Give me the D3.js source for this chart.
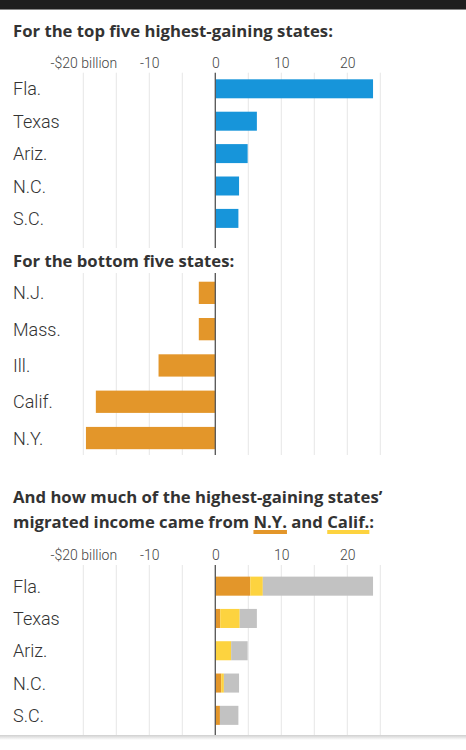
<!DOCTYPE html>
<html><head><meta charset="utf-8">
<script src="https://cdn.jsdelivr.net/npm/d3@7"></script>
<style>
body{margin:0;background:#fff;}
svg{display:block;}
.title{font-family:"Open Sans","Noto Sans",sans-serif;font-weight:700;font-size:16px;fill:#333;}
.lab{font-family:Roboto,Lato,sans-serif;font-weight:300;font-size:18px;fill:#333;}
.tick{font-family:Roboto,Lato,sans-serif;font-weight:300;font-size:14px;fill:#444;}
</style></head>
<body><svg id="c" width="466" height="750"></svg>
<script>
const topStates = ["Fla.","Texas","Ariz.","N.C.","S.C."];
const topValues = [23.9, 6.3, 4.9, 3.6, 3.5];
const bottomStates = ["N.J.","Mass.","Ill.","Calif.","N.Y."];
const bottomValues = [-2.5, -2.5, -8.6, -18.1, -19.6];
const fromNY = [5.3, 0.75, 0.1, 0.9, 0.7];
const fromCalif = [1.9, 2.95, 2.3, 0.4, 0];
const tickValues = [-20, -10, 0, 10, 20];
const tickLabels = ["-$20 billion", "-10", "0", "10", "20"];
const gridValues = [-20, -15, -10, -5, 0, 5, 10, 15, 20, 25];

const C = {blue:"#1795da", orange:"#e3962a", yellow:"#fdd33f", gray:"#c2c2c2", grid:"#e6e6e6", zero:"#555"};

const svg = d3.select("#c");
const x = d3.scaleLinear().domain([-20, 25]).range([83.3, 380.3]);

// top header bar
svg.append("rect").attr("x",0).attr("y",0).attr("width",466).attr("height",9).attr("fill","#1f1f1f");
svg.append("rect").attr("x",0).attr("y",9).attr("width",466).attr("height",1).attr("fill","#888");

function grid(y0, y1) {
  const g = svg.append("g");
  g.selectAll("line").data(gridValues).join("line")
    .attr("x1", d => x(d)).attr("x2", d => x(d))
    .attr("y1", y0).attr("y2", y1)
    .attr("stroke", C.grid).attr("stroke-width", 1);
}
function ticks(yb) {
  const ax = d3.axisTop(x).tickValues(tickValues).tickFormat((d,i) => tickLabels[i]).tickSize(0);
  const g = svg.append("g").attr("transform", `translate(0,${yb})`).call(ax);
  g.select(".domain").remove();
  g.attr("font-family", null).attr("font-size", null);
  g.selectAll("text").attr("class","tick").attr("dy",0).attr("y",0).attr("fill",null);
}
function zero(y0, y1) {
  svg.append("line").attr("x1", x(0)).attr("x2", x(0)).attr("y1", y0).attr("y2", y1)
    .attr("stroke", C.zero).attr("stroke-width", 1.3);
}
function labels(states, y) {
  svg.append("g").selectAll("text").data(states).join("text")
    .attr("class","lab").attr("x", 13)
    .attr("y", d => y(d) + y.bandwidth()/2 + 6.5)
    .text(d => d);
}

// ---- Chart 1 ----
const title1 = svg.append("text").attr("class","title").attr("x",13).attr("y",36.5).text("For the top five highest-gaining states:");
// fit title font size to the reference title width
const tw = title1.node().getComputedTextLength();
const titleSize = Math.max(14, Math.min(19, 16 * 320 / tw));
const styleEl = document.createElement("style");
styleEl.textContent = `.title{font-size:${titleSize}px;}`;
document.head.appendChild(styleEl);

ticks(68.3);
grid(72.7, 455);
const y1 = d3.scaleBand().domain(topStates).range([72.6, 72.6 + 5*32.4]).paddingInner(0.414).paddingOuter(0.207);
svg.append("g").selectAll("rect").data(topStates).join("rect")
  .attr("x", x(0)).attr("y", d => y1(d))
  .attr("width", (d,i) => x(topValues[i]) - x(0)).attr("height", y1.bandwidth())
  .attr("fill", C.blue);
labels(topStates, y1);

// ---- Chart 2 ----
const y2 = d3.scaleBand().domain(bottomStates).range([274.7, 274.7 + 5*36.3]).paddingInner(0.386).paddingOuter(0.193);
svg.append("g").selectAll("rect").data(bottomStates).join("rect")
  .attr("x", (d,i) => x(bottomValues[i])).attr("y", d => y2(d))
  .attr("width", (d,i) => x(0) - x(bottomValues[i])).attr("height", y2.bandwidth())
  .attr("fill", C.orange);
zero(72.7, 455);
svg.append("rect").attr("x",0).attr("y",248).attr("width",233).attr("height",25).attr("fill","#fff");
svg.append("text").attr("class","title").attr("x",13).attr("y",266.7).text("For the bottom five states:");
labels(bottomStates, y2);

// ---- Chart 3 ----
svg.append("text").attr("class","title").attr("x",13).attr("y",503).text("And how much of the highest-gaining states\u2019");
const t2 = svg.append("text").attr("class","title").attr("x",13).attr("y",528);
t2.append("tspan").text("migrated income came from ");
const tNY = t2.append("tspan").text("N.Y.");
t2.append("tspan").text(" and ");
const tCA = t2.append("tspan").text("Calif.");
t2.append("tspan").text(":");
[[tNY, C.orange], [tCA, C.yellow]].forEach(([t, col]) => {
  const b = t.node().getBBox();
  svg.append("rect").attr("x", b.x).attr("y", 530).attr("width", b.width).attr("height", 4).attr("fill", col);
});

ticks(560);
grid(565, 735);
const y3 = d3.scaleBand().domain(topStates).range([570, 570 + 5*32.3]).paddingInner(0.41).paddingOuter(0.205);
const rows = topStates.map((s,i) => ({state:s, ny:fromNY[i], calif:fromCalif[i], other: topValues[i] - fromNY[i] - fromCalif[i]}));
const stack = d3.stack().keys(["ny","calif","other"])(rows);
const colors = {ny:C.orange, calif:C.yellow, other:C.gray};
svg.append("g").selectAll("g").data(stack).join("g").attr("fill", s => colors[s.key])
  .selectAll("rect").data(s => s).join("rect")
  .attr("x", d => x(d[0])).attr("y", d => y3(d.data.state))
  .attr("width", d => x(d[1]) - x(d[0])).attr("height", y3.bandwidth());
zero(565, 736);
labels(topStates, y3);

// bottom shadow line
const defs = svg.append("defs");
const lg = defs.append("linearGradient").attr("id","sh").attr("x1",0).attr("x2",0).attr("y1",0).attr("y2",1);
lg.append("stop").attr("offset","0").attr("stop-color","#cfcfcf");
lg.append("stop").attr("offset","1").attr("stop-color","#fff");
svg.append("rect").attr("x",0).attr("y",735).attr("width",466).attr("height",5).attr("fill","url(#sh)");
</script></body></html>
